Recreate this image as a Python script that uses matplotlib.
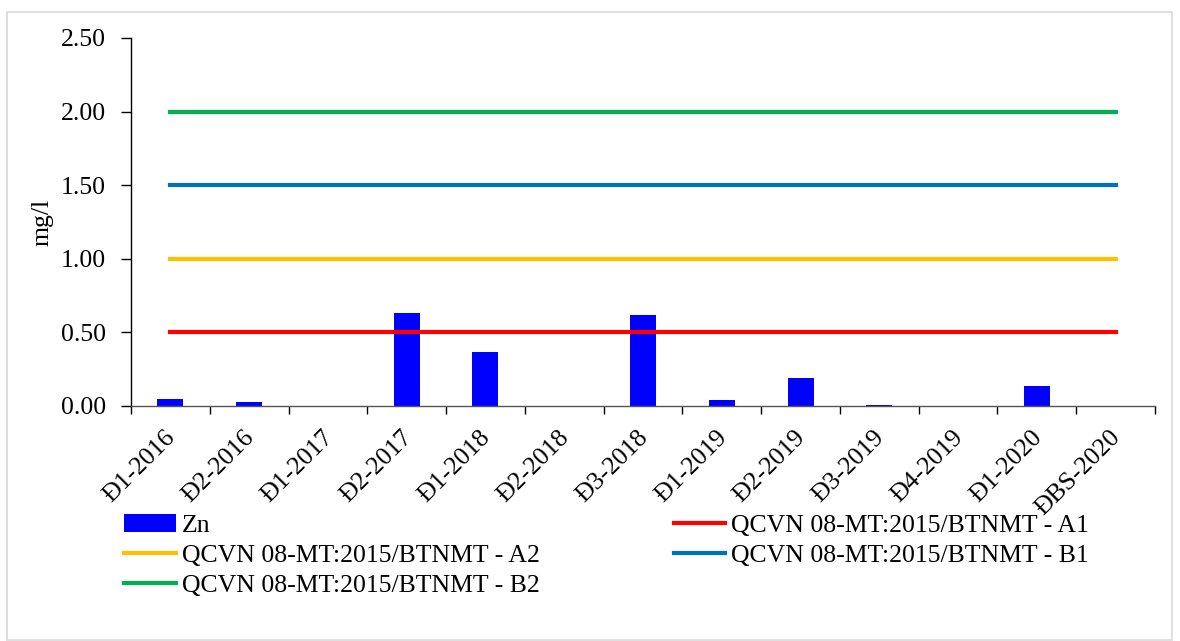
import numpy as np
import matplotlib.pyplot as plt
from matplotlib.patches import Rectangle
from matplotlib.transforms import ScaledTranslation

plt.rcParams['font.family'] = ['Liberation Serif', 'DejaVu Serif']

dot = ['Đ1-2016', 'Đ2-2016', 'Đ1-2017', 'Đ2-2017', 'Đ1-2018', 'Đ2-2018', 'Đ3-2018',
       'Đ1-2019', 'Đ2-2019', 'Đ3-2019', 'Đ4-2019', 'Đ1-2020', 'ĐBS-2020']
zn = [0.05, 0.025, 0.0, 0.63, 0.37, 0.0, 0.62, 0.04, 0.19, 0.005, 0.0, 0.136, 0.0]
qc_a1 = 0.5
qc_a2 = 1.0
qc_b1 = 1.5
qc_b2 = 2.0

fs = 18.5

fig = plt.figure(figsize=(11.8, 6.41), dpi=100)
fig.patches.append(Rectangle((7 / 1180, 0.002), 1165 / 1180, 1 - 12 / 641 - 0.002,
                             transform=fig.transFigure, fill=False,
                             edgecolor='#d9d9d9', linewidth=1.2))
ax = fig.add_axes([131 / 1180, 1 - 406 / 641, (1155 - 131) / 1180, (406 - 38) / 641])

x = np.arange(len(dot))
b = ax.bar(x, zn, width=0.33, color='#0000FF', label='Zn')
l1, = ax.plot([x[0], x[-1]], [qc_a1, qc_a1], color='#FF0000', lw=3,
              label='QCVN 08-MT:2015/BTNMT - A1')
l2, = ax.plot([x[0], x[-1]], [qc_a2, qc_a2], color='#FFC000', lw=3,
              label='QCVN 08-MT:2015/BTNMT - A2')
l3, = ax.plot([x[0], x[-1]], [qc_b1, qc_b1], color='#0070C0', lw=3,
              label='QCVN 08-MT:2015/BTNMT - B1')
l4, = ax.plot([x[0], x[-1]], [qc_b2, qc_b2], color='#00B050', lw=3,
              label='QCVN 08-MT:2015/BTNMT - B2')

ax.set_xlim(-0.5, len(dot) - 0.5)
ax.set_ylim(0, 2.5)
ax.set_yticks(np.arange(0, 2.51, 0.5))
ax.set_yticklabels(['%.2f' % v for v in np.arange(0, 2.51, 0.5)], fontsize=fs)
ax.set_xticks(x)
ax.set_xticklabels(dot, rotation=45, ha='right', rotation_mode='anchor', fontsize=fs)
ax.set_xticks(np.arange(-0.5, len(dot)), minor=True)
ax.tick_params(axis='x', which='major', length=0, pad=10)
ax.tick_params(axis='x', which='minor', length=6, direction='out', width=1)
ax.tick_params(axis='y', length=7, direction='out', width=1, pad=11)
# nudge rotated labels down-left a little (after tick_params, which resets transforms)
shift = ScaledTranslation(-6 / 100, -6 / 100, fig.dpi_scale_trans)
for lab in ax.get_xticklabels():
    lab.set_transform(lab.get_transform() + shift)
for s in ['top', 'right']:
    ax.spines[s].set_visible(False)
ax.spines['left'].set_linewidth(1)
ax.spines['bottom'].set_linewidth(1)
ax.spines['bottom'].set_color('#555555')
ax.set_ylabel('mg/l', fontsize=fs, labelpad=5)

leg = fig.legend([b, l2, l4, l1, l3],
                 [b.get_label(), l2.get_label(), l4.get_label(), l1.get_label(), l3.get_label()],
                 ncol=2, loc='upper left', bbox_to_anchor=(114 / 1180, 1 - 504 / 641),
                 frameon=False, fontsize=fs, handlelength=2.0, handletextpad=0.25,
                 columnspacing=5.2, labelspacing=0.26, borderaxespad=0)

fig.savefig('out.png', dpi=100)
